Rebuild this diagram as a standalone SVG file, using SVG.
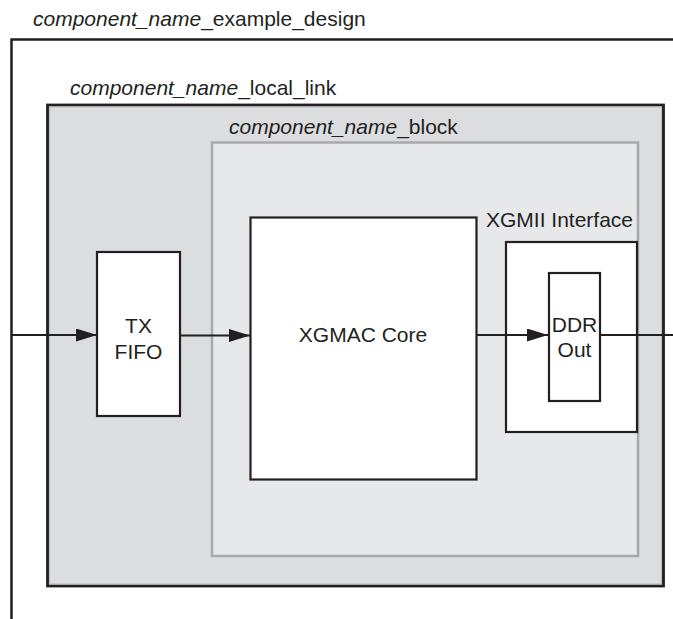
<svg xmlns="http://www.w3.org/2000/svg" width="673" height="619" viewBox="0 0 673 619">
  <defs>
    <style>
      .lbl { font-family: "Liberation Sans", Arial, sans-serif; font-size: 21px; fill: #231f20; }
      .it { font-style: italic; }
      .box { fill: #ffffff; stroke: #231f20; stroke-width: 2.2; }
      .wire { fill: none; stroke: #231f20; stroke-width: 2.2; }
    </style>
    <marker id="arr" viewBox="0 0 21 13" refX="21" refY="6.5" markerWidth="21" markerHeight="13" markerUnits="userSpaceOnUse" orient="auto">
      <path d="M0,0 L21,6.5 L0,13 z" fill="#231f20"/>
    </marker>
  </defs>
  <rect width="673" height="619" fill="#ffffff"/>

  <g id="example_design">
    <path d="M673,39.5 H11.5 V619" fill="none" stroke="#231f20" stroke-width="2.5"/>
    <text class="lbl" x="33" y="26"><tspan class="it">component_name</tspan>_example_design</text>
  </g>

  <g id="local_link">
    <rect x="47.5" y="105" width="616" height="481" fill="#dcdddf" stroke="#231f20" stroke-width="2.8"/>
    <rect x="49.5" y="107" width="612" height="477" fill="none" stroke="#b9babd" stroke-width="1"/>
    <text class="lbl" x="70" y="95"><tspan class="it">component_name</tspan>_local_link</text>
  </g>

  <g id="block">
    <rect x="212" y="142.5" width="426" height="413.5" fill="#e7e8ea" stroke="#a7a9ac" stroke-width="2.5"/>
    <text class="lbl" x="229" y="134"><tspan class="it">component_name</tspan>_block</text>
  </g>

  <g id="tx_fifo">
    <rect class="box" x="97" y="252" width="83" height="164"/>
    <text class="lbl" x="138.5" y="333" text-anchor="middle">TX</text>
    <text class="lbl" x="138.5" y="359" text-anchor="middle">FIFO</text>
  </g>

  <g id="xgmac_core">
    <rect class="box" x="250.5" y="217.5" width="226" height="262"/>
    <text class="lbl" x="363" y="342" text-anchor="middle">XGMAC Core</text>
  </g>

  <g id="xgmii_interface">
    <rect class="box" x="506" y="242" width="131" height="190"/>
    <text class="lbl" x="486" y="227">XGMII Interface</text>
  </g>

  <g id="ddr_out">
    <rect class="box" x="549" y="273" width="51" height="128"/>
    <text class="lbl" x="574.5" y="332" text-anchor="middle">DDR</text>
    <text class="lbl" x="574.5" y="357" text-anchor="middle">Out</text>
  </g>

  <g id="connectors">
    <path class="wire" d="M11.5,335 H97" marker-end="url(#arr)"/>
    <path class="wire" d="M180,335.5 H250" marker-end="url(#arr)"/>
    <path class="wire" d="M476.5,335 H548" marker-end="url(#arr)"/>
    <path class="wire" d="M600,335 H673"/>
  </g>
</svg>
